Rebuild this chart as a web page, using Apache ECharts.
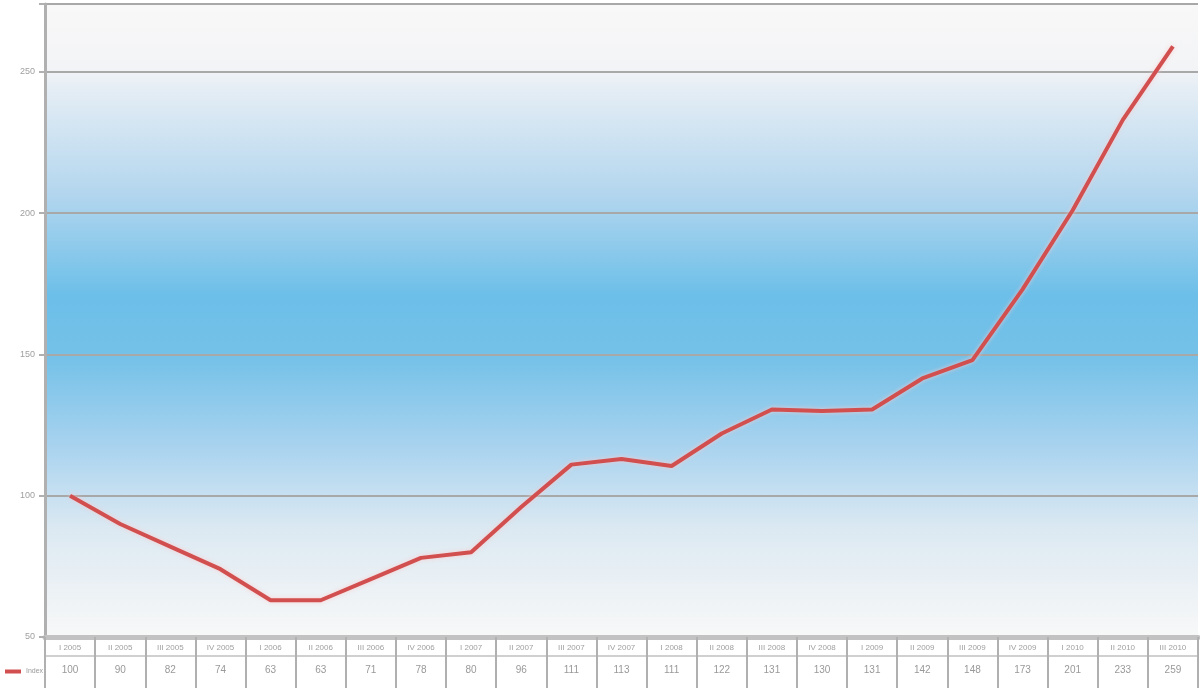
<!DOCTYPE html>
<html>
<head>
<meta charset="utf-8">
<script src="https://cdn.jsdelivr.net/npm/echarts@6/dist/echarts.min.js"></script>
<style>
html,body{margin:0;padding:0;background:#fff;}
#chart{width:1200px;height:688px;}
</style>
</head>
<body>
<div id="chart"></div>
<script>
var categories = ['I 2005','II 2005','III 2005','IV 2005','I 2006','II 2006','III 2006','IV 2006',
  'I 2007','II 2007','III 2007','IV 2007','I 2008','II 2008','III 2008','IV 2008',
  'I 2009','II 2009','III 2009','IV 2009','I 2010','II 2010','III 2010'];
var values = [100, 90, 82, 74, 63, 63, 70.5, 78, 80, 96, 111, 113, 110.5, 122, 130.5, 130, 130.5, 141.5, 148, 173, 201, 233, 259];
var tableValues = values.map(function(v){ return String(Math.round(v)); });
var yTicks = [50, 100, 150, 200, 250];
var seriesName = 'Index';

var chart = echarts.init(document.getElementById('chart'));
chart.setOption({
  backgroundColor: '#ffffff',
  animation: false,
  grid: {
    left: 45, right: 2, top: 4, bottom: 51,
    show: true,
    borderWidth: 0,
    backgroundColor: {
      type: 'linear', x: 0, y: 0, x2: 0, y2: 1,
      colorStops: [
        {offset: 0, color: '#f8f8f8'},
        {offset: 0.10, color: '#f3f4f6'},
        {offset: 0.13, color: '#e6eef5'},
        {offset: 0.30, color: '#b3d6ee'},
        {offset: 0.46, color: '#6cbfe9'},
        {offset: 0.56, color: '#75c1e8'},
        {offset: 0.70, color: '#a9d3ef'},
        {offset: 0.83, color: '#dce9f2'},
        {offset: 1, color: '#f8f8f8'}
      ]
    }
  },
  legend: {
    left: 0, bottom: 8,
    icon: 'rect',
    itemWidth: 16, itemHeight: 4,
    itemGap: 2,
    textStyle: {fontSize: 7, color: '#999'},
    data: [seriesName]
  },
  xAxis: [
    {
      type: 'category',
      data: categories,
      position: 'bottom',
      boundaryGap: true,
      axisLine: {show: true, lineStyle: {color: '#c2c2c2', width: 5}},
      axisTick: {show: true, length: 51, lineStyle: {color: '#b0b0b0', width: 2}},
      axisLabel: {fontSize: 8, color: '#a0a0a0', margin: 7, interval: 0}
    },
    {
      type: 'category',
      data: tableValues,
      position: 'bottom',
      offset: 19,
      boundaryGap: true,
      axisLine: {show: true, lineStyle: {color: '#d0d0d0', width: 2}},
      axisTick: {show: false},
      axisLabel: {fontSize: 10, color: '#999', margin: 9, interval: 0}
    }
  ],
  yAxis: {
    type: 'value',
    min: 50, max: 274, interval: 50,
    axisLine: {show: true, lineStyle: {color: '#b0b0b0', width: 3}},
    axisTick: {show: true, length: 6, lineStyle: {color: '#b0b0b0', width: 2}},
    axisLabel: {
      fontSize: 9, color: '#a0a0a0', margin: 10,
      formatter: function(v){ return yTicks.indexOf(v) >= 0 ? String(v) : ''; }
    },
    splitLine: {show: true, lineStyle: {color: '#a8a8a8', width: 2}}
  },
  series: [{
    name: seriesName,
    type: 'line',
    xAxisIndex: 0,
    data: values,
    symbol: 'none',
    lineStyle: {color: '#d24f4f', width: 4, shadowColor: 'rgba(255,200,200,0.8)', shadowBlur: 4},
    itemStyle: {color: '#d24f4f'}
  }]
});
</script>
</body>
</html>
